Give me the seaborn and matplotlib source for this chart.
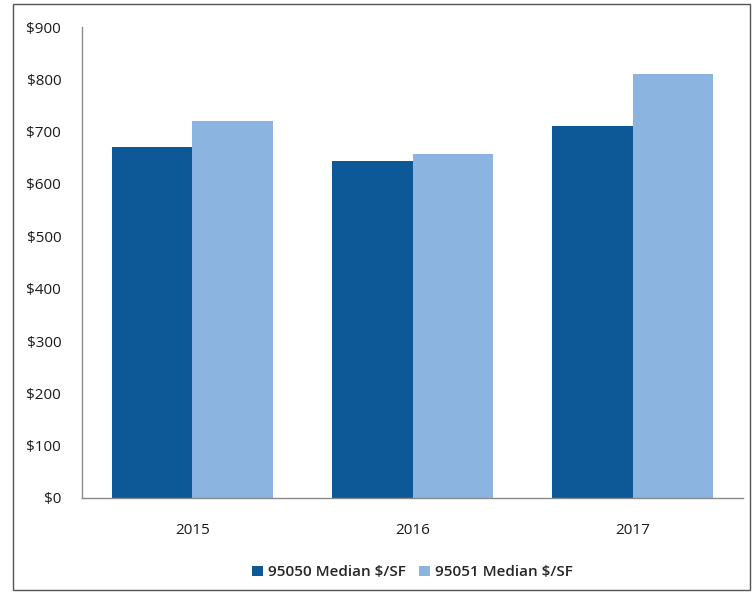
import pandas as pd
import matplotlib.pyplot as plt
import seaborn as sns
from matplotlib.patches import Rectangle
from matplotlib.ticker import FuncFormatter

# Data
years = ['2015', '2016', '2017']
median_95050 = [670, 644, 710]
median_95051 = [720, 658, 810]
series_names = ['95050 Median $/SF', '95051 Median $/SF']
colors = ['#0D5998', '#8CB4E0']

df = pd.DataFrame({
    'year': years * 2,
    'value': median_95050 + median_95051,
    'series': [series_names[0]] * 3 + [series_names[1]] * 3,
})

sns.set_style("white")
plt.rcParams['font.family'] = ['Open Sans', 'DejaVu Sans']

fig = plt.figure(figsize=(7.53, 5.94), dpi=100)
ax = fig.add_axes([82 / 753, 1 - 498 / 594, (743 - 82) / 753, (498 - 27) / 594])

sns.barplot(data=df, x='year', y='value', hue='series', palette=colors,
            width=0.73, saturation=1, linewidth=0, ax=ax, legend=True)

ax.set_ylim(0, 900)
ax.set_yticks(range(0, 1000, 100))
ax.yaxis.set_major_formatter(FuncFormatter(lambda v, p: f'${int(v)}'))
ax.set_xlabel('')
ax.set_ylabel('')
ax.tick_params(axis='both', length=0, labelsize=11, colors='#1a1a1a')
ax.tick_params(axis='y', pad=15)
ax.tick_params(axis='x', pad=18)

for side in ['top', 'right']:
    ax.spines[side].set_visible(False)
for side in ['left', 'bottom']:
    ax.spines[side].set_color('#8a8a8a')
    ax.spines[side].set_linewidth(1.0)

ax.legend(loc='center', bbox_to_anchor=(0.5, -0.158), ncol=2, frameon=False,
          handlelength=0.7, handleheight=0.7, handletextpad=0.3, columnspacing=0.9,
          prop={'size': 11, 'weight': 'semibold'})

# Outer chart border
fig.patches.append(Rectangle((13 / 753, 4 / 594), 737 / 753, 586 / 594,
                             transform=fig.transFigure, fill=False,
                             edgecolor='#555555', linewidth=1.0))

fig.savefig('out.png', dpi=100)
